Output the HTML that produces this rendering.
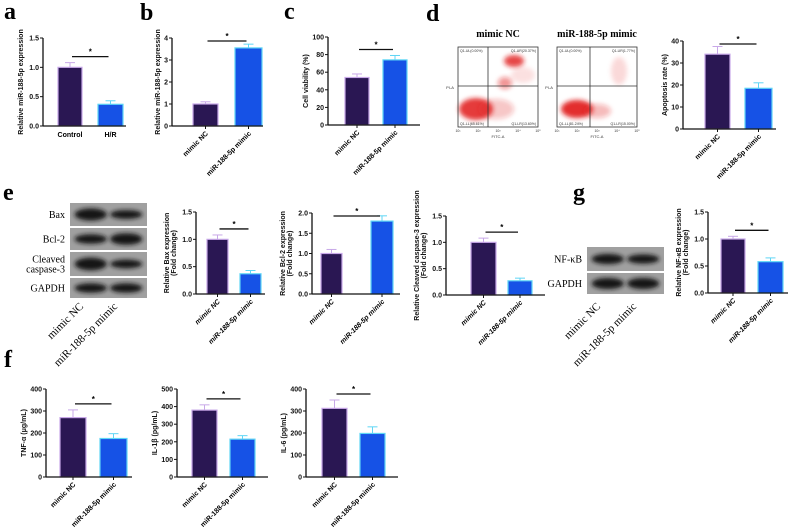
<!DOCTYPE html>
<html><head><meta charset="utf-8">
<style>
html,body{margin:0;padding:0;background:#fff;}
svg{display:block;font-family:"Liberation Sans",Arial,sans-serif;}
.pl{font-family:"Liberation Serif",serif;font-weight:bold;font-size:24px;}
.tk{font-size:7px;font-weight:bold;fill:#111;}
.cat{font-size:7px;font-weight:bold;fill:#000;}
.yt{font-size:7px;font-weight:bold;fill:#111;}
.ser{font-family:"Liberation Serif",serif;font-size:10px;fill:#000;}
</style></head>
<body>
<svg id="fig" width="800" height="530" viewBox="0 0 800 530">
<defs>
<filter id="blur" x="-20%" y="-50%" width="140%" height="200%"><feGaussianBlur stdDeviation="2"/></filter>
<filter id="blur2" x="-30%" y="-30%" width="160%" height="160%"><feGaussianBlur stdDeviation="2.5"/></filter>
</defs>
<g id="labels">
<text class="pl" x="4" y="19">a</text>
<text class="pl" x="140" y="20">b</text>
<text class="pl" x="284" y="19">c</text>
<text class="pl" x="426" y="21">d</text>
<text class="pl" x="3" y="200">e</text>
<text class="pl" x="573" y="200">g</text>
<text class="pl" x="4" y="367">f</text>
</g>
<g id="blots"></g>
<g id="flow"></g>
<g id="charts"></g>
</svg>
<script>
const NS="http://www.w3.org/2000/svg";
const svg=document.getElementById('fig');
function mk(tag,attrs,parent,txt){const e=document.createElementNS(NS,tag);for(const k in attrs)e.setAttribute(k,attrs[k]);if(txt!==undefined)e.textContent=txt;(parent||svg).appendChild(e);return e;}

// ---- data ----
const groupsNC=["mimic NC","miR-188-5p mimic"];
const aCategories=["Control","H/R"];
const aValues=[1.0,0.37];
const aErrors=[0.08,0.06];
const aTicks=[0,0.5,1.0,1.5];
const bValues=[1.0,3.55];
const bErrors=[0.1,0.17];
const bTicks=[0,1,2,3,4];
const cValues=[54,74];
const cErrors=[4,5];
const cTicks=[0,20,40,60,80,100];
const dValues=[34,18.5];
const dErrors=[3.5,2.5];
const dTicks=[0,10,20,30,40];
const baxValues=[1.0,0.37];
const baxErrors=[0.08,0.06];
const bclValues=[1.0,1.8];
const bclErrors=[0.1,0.13];
const casValues=[1.0,0.27];
const casErrors=[0.08,0.05];
const nfValues=[1.0,0.58];
const nfErrors=[0.05,0.07];
const foldTicks=[0,0.5,1.0,1.5];
const bclTicks=[0,0.5,1.0,1.5,2.0];
const tnfValues=[270,175];
const tnfErrors=[35,22];
const il1Values=[380,215];
const il1Errors=[30,20];
const il6Values=[312,198];
const il6Errors=[38,30];
const ticks400=[0,100,200,300,400];
const ticks500=[0,100,200,300,400,500];

// ---- chart layouts ----
const charts=[
 {name:'a',cats:aCategories,vals:aValues,errs:aErrors,ticks:aTicks,ax:43,yb:126,yt:38,xe:126,bars:[[58,82],[98,123]],title:['Relative miR-188-5p expression'],flat:true,dec:1,fs:7},
 {name:'b',cats:groupsNC,vals:bValues,errs:bErrors,ticks:bTicks,ax:172,yb:126,yt:38,xe:263,bars:[[193,218],[235,262]],title:['Relative miR-188-5p expression'],dec:0,fs:7},
 {name:'c',cats:groupsNC,vals:cValues,errs:cErrors,ticks:cTicks,ax:328,yb:125,yt:37,xe:420,bars:[[345,369],[383,407]],title:['Cell viability (%)'],dec:0,fs:8},
 {name:'d',cats:groupsNC,vals:dValues,errs:dErrors,ticks:dTicks,ax:683,yb:129,yt:41,xe:776,bars:[[705,730],[745,772]],title:['Apoptosis rate (%)'],dec:0,fs:9},
 {name:'bax',cats:groupsNC,vals:baxValues,errs:baxErrors,ticks:foldTicks,ax:196,yb:294,yt:212,xe:265,bars:[[207,228],[240,261]],title:['Relative Bax expression','(Fold change)'],dec:1,fs:6,small:true},
 {name:'bcl2',cats:groupsNC,vals:bclValues,errs:bclErrors,ticks:bclTicks,ax:312,yb:294,yt:213,xe:400,bars:[[321,342],[371,393]],title:['Relative Bcl-2 expression','(Fold change)'],dec:1,fs:6,small:true},
 {name:'cleaved-caspase3',cats:groupsNC,vals:casValues,errs:casErrors,ticks:foldTicks,ax:446,yb:295,yt:216,xe:545,bars:[[471,496],[508,532]],title:['Relative Cleaved caspase-3 expression','(Fold change)'],dec:1,fs:6,small:true},
 {name:'nfkb',cats:groupsNC,vals:nfValues,errs:nfErrors,ticks:foldTicks,ax:708,yb:293,yt:212,xe:788,bars:[[721,745],[758,783]],title:['Relative NF-κB expression','(Fold change)'],dec:1,fs:6,small:true},
 {name:'tnf',cats:groupsNC,vals:tnfValues,errs:tnfErrors,ticks:ticks400,ax:46,yb:477,yt:389,xe:132,bars:[[60,86],[100,127]],title:['TNF-α (μg/mL)'],dec:0,fs:8},
 {name:'il1b',cats:groupsNC,vals:il1Values,errs:il1Errors,ticks:ticks500,ax:177,yb:477,yt:389,xe:268,bars:[[192,217],[230,255]],title:['IL-1β (pg/mL)'],dec:0,fs:8},
 {name:'il6',cats:groupsNC,vals:il6Values,errs:il6Errors,ticks:ticks400,ax:306,yb:477,yt:389,xe:398,bars:[[322,347],[360,385]],title:['IL-6 (pg/mL)'],dec:0,fs:8}
];
const fills=['#2a1753','#1652e6'];
const strokes=['#c8a8e8','#5fd6f5'];

const cg=document.getElementById('charts');
charts.forEach(c=>{
  const g=mk('g',{},cg);
  
  
  const max=c.ticks[c.ticks.length-1];
  const y=v=>c.yb-(v/max)*(c.yb-c.yt);
  c.vals.forEach((v,i)=>{
    const [x0,x1]=c.bars[i];const cx=(x0+x1)/2;
    const et=y(v+c.errs[i]);
    const el=mk('line',{x1:cx,x2:cx,y1:y(v),y2:et,stroke:strokes[i],'stroke-width':1},g);
    
    
    mk('line',{x1:cx-5,x2:cx+5,y1:et,y2:et,stroke:strokes[i],'stroke-width':1},g);
    const r=mk('rect',{x:x0,y:y(v),width:x1-x0,height:c.yb-y(v),fill:fills[i],stroke:strokes[i],'stroke-width':1.2},g);
    
    
    if(c.flat){
      const t=mk('text',{x:cx,y:c.yb+11,'text-anchor':'middle',class:'cat','font-size':8},g,c.cats[i]);
      
      
    }else{
      mk('line',{x1:cx,x2:cx,y1:c.yb,y2:c.yb+3,stroke:'#111','stroke-width':1},g);
      const lx=cx+3,ly=c.yb+8;
      const t=mk('text',{x:lx,y:ly,'text-anchor':'end',class:'cat','font-size':c.small?5.5:7,'font-style':c.small?'italic':'normal',transform:`rotate(-45 ${lx} ${ly})`},g,c.cats[i]);
      
      
    }
  });
  const ya=mk('line',{x1:c.ax,x2:c.ax,y1:c.yt,y2:c.yb,stroke:'#111','stroke-width':1.3},g);
  
  
  const xa=mk('line',{x1:c.ax,x2:c.xe,y1:c.yb,y2:c.yb,stroke:'#111','stroke-width':1.3},g);
  
  
  c.ticks.forEach(t=>{
    mk('line',{x1:c.ax-3,x2:c.ax,y1:y(t),y2:y(t),stroke:'#111','stroke-width':1},g);
    const tx=mk('text',{x:c.ax-4,y:y(t)+2.5,'text-anchor':'end',class:'tk','font-size':c.small?6:7},g,t.toFixed(c.dec));
    
    
  });
  const tw=c.ticks[c.ticks.length-1].toFixed(c.dec).length*4+8;
  const yc=(c.yt+c.yb)/2;
  c.title.forEach((s,k)=>{
    const tx0=c.ax-tw-(c.title.length-1-k)*7;
    const tt=mk('text',{x:tx0,y:yc,'text-anchor':'middle',class:'yt','font-size':c.fs,transform:`rotate(-90 ${tx0} ${yc})`},g,s);
    
    
  });
  const c0=(c.bars[0][0]+c.bars[0][1])/2,c1=(c.bars[1][0]+c.bars[1][1])/2;
  const sy=Math.max(c.yt+3,Math.min(y(c.vals[0]+c.errs[0]),y(c.vals[1]+c.errs[1]))-6);
  const sl=mk('line',{x1:c0+2,x2:c1-2,y1:sy,y2:sy,stroke:'#111','stroke-width':1.3},g);
  
  
  const st=mk('text',{x:(c0+c1)/2,y:sy-2,'text-anchor':'middle','font-size':8,'font-weight':'bold'},g,'*');
  
  
});

// ---- western blots ----
const bg=document.getElementById('blots');
function blot(name,x,w,rows,labelX){
  const g=mk('g',{},bg);
  
  
  rows.forEach(r=>{
    mk('rect',{x:x,y:r.y,width:w,height:r.h,fill:'#a0a0a0'},g);
    r.bands.forEach((b,i)=>{
      const cx=x+w*(i===0?0.27:0.73);
      mk('ellipse',{cx:cx,cy:r.y+r.h/2,rx:w*0.21,ry:r.h*0.24*b,fill:'#151515',filter:'url(#blur)'},g);
    });
    r.label.forEach((s,k)=>{
      const t=mk('text',{x:labelX,y:r.y+r.h/2+3.5+(k-(r.label.length-1)/2)*10,'text-anchor':'end',class:'ser'},g,s);
      
      
    });
  });
}
blot('western-blot-e',70,77,[
 {y:203,h:23,bands:[1.1,0.8],label:['Bax']},
 {y:228,h:22,bands:[0.9,1.1],label:['Bcl-2']},
 {y:252,h:24,bands:[1.1,0.75],label:['Cleaved','caspase-3']},
 {y:278,h:20,bands:[1.0,1.0],label:['GAPDH']}
],65);
blot('western-blot-g',587,77,[
 {y:247,h:24,bands:[0.9,0.8],label:['NF-κB']},
 {y:273,h:21,bands:[1.1,1.1],label:['GAPDH']}
],582);
[[84,307,'mimic NC'],[118,307,'miR-188-5p mimic'],[601,307,'mimic NC'],[637,307,'miR-188-5p mimic']].forEach(p=>{
  const t=mk('text',{x:p[0],y:p[1],'text-anchor':'end','font-family':'Liberation Serif, serif','font-size':11,fill:'#000',transform:`rotate(-45 ${p[0]} ${p[1]})`},bg,p[2]);
  
  
});

// ---- flow cytometry plots ----
const fg=document.getElementById('flow');
function flow(name,x0,title,vx,blobs,qs){
  const g=mk('g',{},fg);
  
  
  const t=mk('text',{x:x0+40,y:37,'text-anchor':'middle','font-family':'Liberation Serif, serif','font-weight':'bold','font-size':10},g,title);
  
  
  blobs.forEach(b=>mk('ellipse',{cx:x0+b[0],cy:47+b[1],rx:b[2],ry:b[3],fill:'#e01818','fill-opacity':b[4],filter:'url(#blur2)'},g));
  mk('rect',{x:x0,y:47,width:80,height:80,fill:'none',stroke:'#333','stroke-width':0.8},g);
  mk('line',{x1:x0+vx,x2:x0+vx,y1:47,y2:127,stroke:'#333','stroke-width':0.8},g);
  mk('line',{x1:x0,x2:x0+80,y1:86,y2:86,stroke:'#333','stroke-width':0.8},g);
  qs.forEach(q=>mk('text',{x:x0+q[0],y:47+q[1],'font-size':3.5,fill:'#333','text-anchor':q[2]},g,q[3]));
  mk('text',{x:x0+40,y:138,'font-size':4,fill:'#333','text-anchor':'middle'},g,'FITC-A');
  ['10¹','10²','10³','10⁴','10⁵'].forEach((s,i)=>mk('text',{x:x0+i*20,y:132,'font-size':3.5,fill:'#333','text-anchor':'middle'},g,s));
  mk('text',{x:x0-8,y:89,'font-size':4,fill:'#333','text-anchor':'middle'},g,'PI-A');
}
flow('flow-plot-mimic-nc',458,'mimic NC',30,[[18,62,17,11,0.85],[56,14,10,6,0.8],[47,36,7,6,0.45],[38,62,18,10,0.25],[65,28,12,8,0.12]],
 [[2,5,'start','Q1-UL(0.00%)'],[78,5,'end','Q1-UR(20.37%)'],[2,78,'start','Q1-LL(65.61%)'],[78,78,'end','Q1-LR(13.60%)']]);
flow('flow-plot-mir-mimic',557,'miR-188-5p mimic',33,[[20,62,16,9,0.9],[40,64,14,7,0.3],[62,24,8,14,0.15]],
 [[2,5,'start','Q1-UL(0.00%)'],[78,5,'end','Q1-UR(1.77%)'],[2,78,'start','Q1-LL(81.24%)'],[78,78,'end','Q1-LR(15.00%)']]);
</script>
</body></html>
